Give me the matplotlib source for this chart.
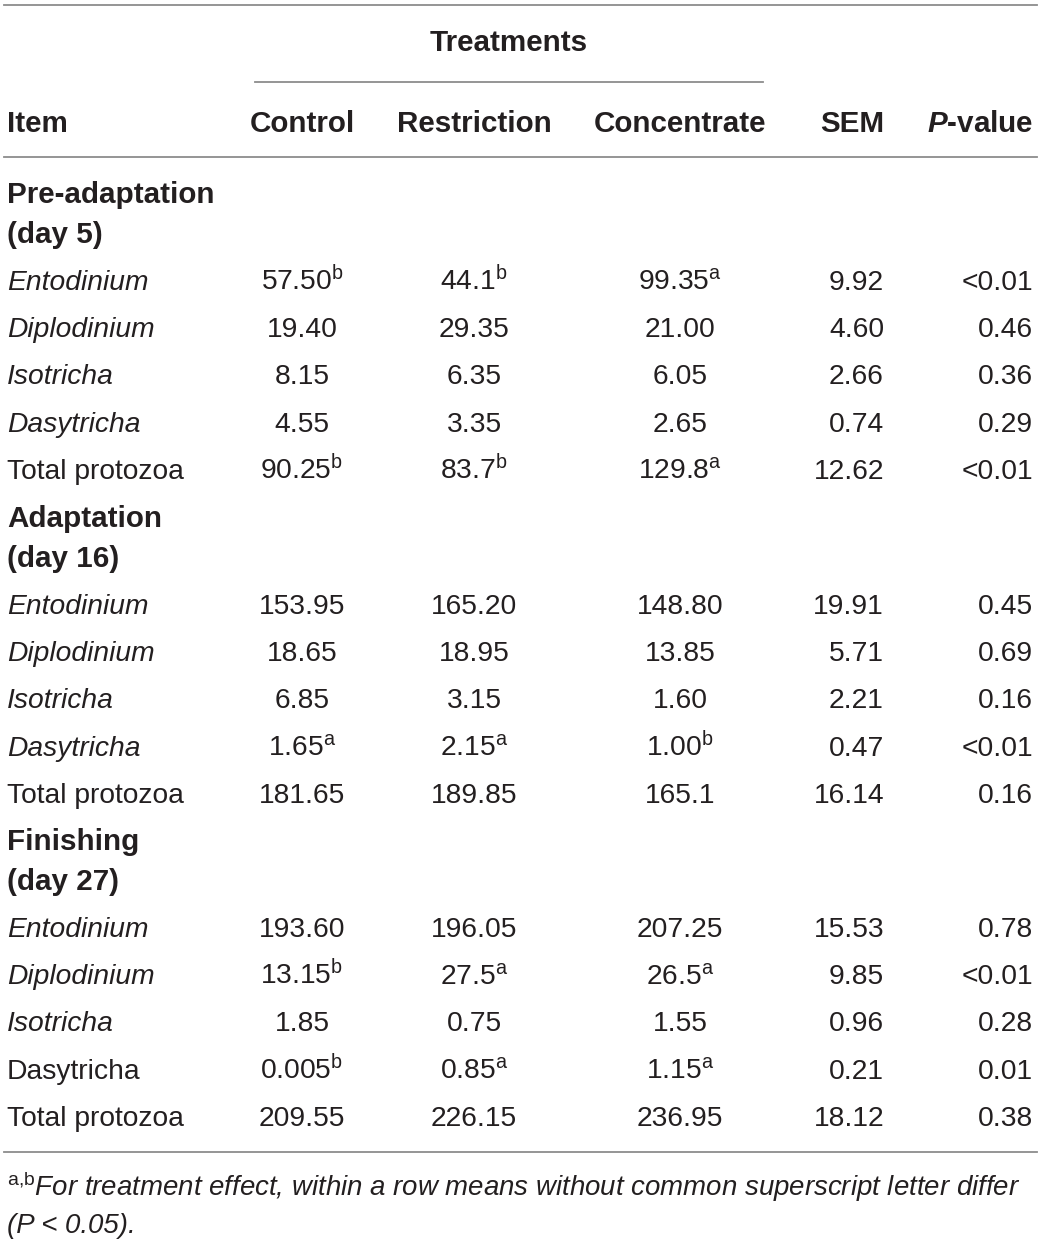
import matplotlib
matplotlib.use("Agg")
import matplotlib.pyplot as plt

plt.rcParams['font.family'] = ['Liberation Sans', 'DejaVu Sans']
plt.rcParams['mathtext.fontset'] = 'custom'
plt.rcParams['mathtext.rm'] = 'Liberation Sans'
plt.rcParams['mathtext.it'] = 'Liberation Sans:italic'
plt.rcParams['mathtext.bf'] = 'Liberation Sans:bold'
plt.rcParams['mathtext.bfit'] = 'Liberation Sans:bold:italic'

# Datos de la tabla
columnas = ["Control", "Restriction", "Concentrate", "SEM", "P-value"]
secciones = [("Pre-adaptation", "(day 5)"), ("Adaptation", "(day 16)"), ("Finishing", "(day 27)")]
items = ["Entodinium", "Diplodinium", "Isotricha", "Dasytricha", "Total protozoa"]
italica = [[True, True, True, True, False],
           [True, True, True, True, False],
           [True, True, True, False, False]]

control = [["57.50", "19.40", "8.15", "4.55", "90.25"],
           ["153.95", "18.65", "6.85", "1.65", "181.65"],
           ["193.60", "13.15", "1.85", "0.005", "209.55"]]
control_sup = [["b", "", "", "", "b"],
               ["", "", "", "a", ""],
               ["", "b", "", "b", ""]]
restriccion = [["44.1", "29.35", "6.35", "3.35", "83.7"],
               ["165.20", "18.95", "3.15", "2.15", "189.85"],
               ["196.05", "27.5", "0.75", "0.85", "226.15"]]
restriccion_sup = [["b", "", "", "", "b"],
                   ["", "", "", "a", ""],
                   ["", "a", "", "a", ""]]
concentrado = [["99.35", "21.00", "6.05", "2.65", "129.8"],
               ["148.80", "13.85", "1.60", "1.00", "165.1"],
               ["207.25", "26.5", "1.55", "1.15", "236.95"]]
concentrado_sup = [["a", "", "", "", "a"],
                   ["", "", "", "b", ""],
                   ["", "a", "", "a", ""]]
sem = [["9.92", "4.60", "2.66", "0.74", "12.62"],
       ["19.91", "5.71", "2.21", "0.47", "16.14"],
       ["15.53", "9.85", "0.96", "0.21", "18.12"]]
p_valor = [["<0.01", "0.46", "0.36", "0.29", "<0.01"],
           ["0.45", "0.69", "0.16", "<0.01", "0.16"],
           ["0.78", "<0.01", "0.28", "0.01", "0.38"]]

nota = "For treatment effect, within a row means without common superscript letter differ"
nota2 = "(P < 0.05)."

# Estilo
color_texto = "#231f20"
color_linea = "#8c8c8c"
fs = 20.3      # texto normal
fs_b = 21.3    # texto en negrita
fs_nota = 19.9 # nota al pie
W, H = 1041, 1244

fig = plt.figure(figsize=(W / 100, H / 100), dpi=100)
ax = fig.add_axes([0, 0, 1, 1])
ax.set_xlim(0, W)
ax.set_ylim(H, 0)
ax.axis("off")

def txt(x, y, s, ha="left", weight="normal", style="normal", size=None):
    if size is None:
        size = fs_b if weight == "bold" else fs
    ax.text(x, y, s, ha=ha, va="baseline", fontsize=size, color=color_texto,
            fontweight=weight, fontstyle=style)

def con_sup(v, s):
    if s:
        return v + r"$^{\mathrm{" + s + "}}$"
    return v

# Posiciones de columnas
x_item = 7
x_centros = [302, 474, 680]
x_sem = 884
x_p = 1033

# Lineas horizontales
ax.plot([4, 1037], [5, 5], color=color_linea, lw=1.3)
ax.plot([255, 763], [82, 82], color=color_linea, lw=1.3)
ax.plot([4, 1037], [157, 157], color=color_linea, lw=1.3)
ax.plot([4, 1037], [1152, 1152], color=color_linea, lw=1.3)

# Encabezado
txt(509, 51, "Treatments", ha="center", weight="bold")
txt(x_item, 132, "Item", weight="bold")
for xc, c in zip(x_centros, columnas[:3]):
    txt(xc, 132, c, ha="center", weight="bold")
txt(x_sem, 132, columnas[3], ha="right", weight="bold")
txt(x_p, 132, r"$\mathbfit{P}$-value", ha="right", weight="bold")

# Cuerpo
inicio = [194, 518, 841]
paso = 47.2
for k, (s1, s2) in enumerate(secciones):
    y0 = inicio[k] + 9
    txt(x_item, y0, s1, weight="bold")
    txt(x_item, y0 + 40, s2, weight="bold")
    for i, it in enumerate(items):
        y = y0 + 87 + i * paso
        txt(x_item, y, it, style="italic" if italica[k][i] else "normal")
        txt(x_centros[0], y, con_sup(control[k][i], control_sup[k][i]), ha="center")
        txt(x_centros[1], y, con_sup(restriccion[k][i], restriccion_sup[k][i]), ha="center")
        txt(x_centros[2], y, con_sup(concentrado[k][i], concentrado_sup[k][i]), ha="center")
        txt(x_sem, y, sem[k][i], ha="right")
        txt(x_p, y, p_valor[k][i], ha="right")

# Nota al pie
txt(x_item, 1196, r"$^{\mathrm{a{,}b}}$" + nota, style="italic", size=fs_nota)
txt(x_item, 1233, nota2, style="italic", size=fs_nota)

fig.savefig("out.png", dpi=100)
